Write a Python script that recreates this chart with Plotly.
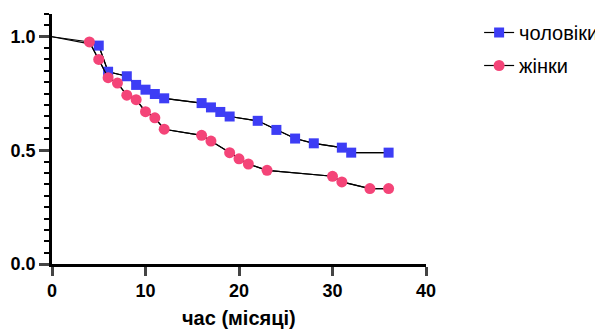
import plotly.graph_objects as go

men_x = [5, 6, 8, 9, 10, 11, 12, 16, 17, 18, 19, 22, 24, 26, 28, 31, 32, 36]
men_y = [0.961, 0.846, 0.826, 0.788, 0.767, 0.748, 0.729, 0.708, 0.689, 0.669, 0.649,
         0.630, 0.590, 0.552, 0.531, 0.512, 0.490, 0.490]
women_x = [4, 5, 6, 7, 8, 9, 10, 11, 12, 16, 17, 19, 20, 21, 23, 30, 31, 34, 36]
women_y = [0.977, 0.900, 0.820, 0.796, 0.743, 0.723, 0.670, 0.643, 0.593, 0.566, 0.541,
           0.490, 0.463, 0.440, 0.412, 0.386, 0.361, 0.332, 0.332]
start_x = [0]
start_y = [1.0]
men_name = "чоловіки"
women_name = "жінки"
x_title = "час (місяці)"
x_ticks = [0, 10, 20, 30, 40]
y_ticks = [0.0, 0.5, 1.0]
y_tick_labels = ["0.0", "0.5", "1.0"]

BLUE = "#3d3df5"
PINK = "#f44478"
FONT = "Liberation Sans, Arial, sans-serif"

fig = go.Figure()
fig.add_trace(go.Scatter(x=start_x + men_x, y=start_y + men_y, mode="lines",
                         line=dict(color="black", width=1.2), showlegend=False,
                         hoverinfo="skip", cliponaxis=False))
fig.add_trace(go.Scatter(x=start_x + women_x, y=start_y + women_y, mode="lines",
                         line=dict(color="black", width=1.2), showlegend=False,
                         hoverinfo="skip", cliponaxis=False))
fig.add_trace(go.Scatter(x=men_x, y=men_y, mode="lines+markers", name=men_name,
                         legendgroup="m", cliponaxis=False,
                         line=dict(color="black", width=1.2),
                         marker=dict(symbol="square", size=10, color=BLUE)))
fig.add_trace(go.Scatter(x=women_x, y=women_y, mode="lines+markers", name=women_name,
                         legendgroup="w", cliponaxis=False,
                         line=dict(color="black", width=1.2),
                         marker=dict(symbol="circle", size=11, color=PINK)))

fig.update_layout(
    width=595, height=321,
    margin=dict(l=44, r=177, t=6, b=65, autoexpand=False),
    paper_bgcolor="white", plot_bgcolor="white",
    font=dict(family=FONT, color="black"),
    legend=dict(x=1.142, y=1.004, xanchor="left", yanchor="top",
                font=dict(size=20, family=FONT, color="black"),
                tracegroupgap=4, traceorder="grouped",
                bgcolor="rgba(0,0,0,0)"),
    xaxis=dict(range=[0, 40], tickvals=x_ticks, ticks="outside", ticklen=9,
               tickwidth=2.5, showline=True, linewidth=2.5, linecolor="black",
               showgrid=False, zeroline=False, automargin=False,
               tickfont=dict(size=18, family=FONT, color="black", weight="bold")),
    yaxis=dict(range=[0, 1.1], tickvals=y_ticks, ticktext=y_tick_labels,
               ticks="outside", ticklen=10, tickwidth=2.5,
               showline=True, linewidth=2.5, linecolor="black",
               showgrid=False, zeroline=False, automargin=False,
               tickfont=dict(size=18, family=FONT, color="black", weight="bold"),
               minor=dict(dtick=0.05, tick0=0, ticks="outside", ticklen=5,
                          tickwidth=2, tickcolor="black", showgrid=False)),
    annotations=[dict(text=x_title, xref="paper", yref="paper", x=0.5, y=-0.216,
                      xanchor="center", yanchor="middle", showarrow=False,
                      font=dict(size=20, family=FONT, color="black", weight="bold"))],
)

fig.write_html("out.html")
